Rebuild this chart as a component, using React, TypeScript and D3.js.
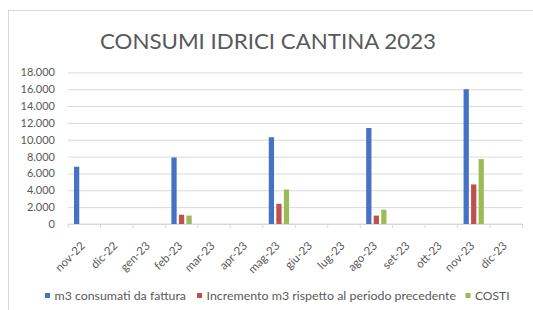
import * as d3 from "d3";
import React from "react";

const months = [
  "nov-22", "dic-22", "gen-23", "feb-23", "mar-23", "apr-23", "mag-23",
  "giu-23", "lug-23", "ago-23", "set-23", "ott-23", "nov-23", "dic-23",
];
// m3 consumati da fattura
const consumi = [6800, null, null, 7900, null, null, 10300, null, null, 11400, null, null, 16000, null];
// Incremento m3 rispetto al periodo precedente
const incremento = [null, null, null, 1100, null, null, 2400, null, null, 1000, null, null, 4700, null];
// COSTI
const costi = [null, null, null, 1000, null, null, 4100, null, null, 1700, null, null, 7700, null];
const yTicks = [0, 2000, 4000, 6000, 8000, 10000, 12000, 14000, 16000, 18000];

const seriesNames = ["m3 consumati da fattura", "Incremento m3 rispetto al periodo precedente", "COSTI"];
const seriesColors = ["#4472C4", "#C0504D", "#9BBB59"];

const W = 533;
const H = 310;
const FONT = "Lato, 'Open Sans', sans-serif";

function App() {
  const svgRef = React.useRef<SVGSVGElement>(null);

  React.useEffect(() => {
    const svg = d3.select(svgRef.current);
    svg.selectAll("*").remove();

    const margin = { top: 72.4, right: 10.5, bottom: 86, left: 68 };
    const x = d3.scaleBand().domain(months).range([margin.left, W - margin.right]).padding(0);
    const y = d3.scaleLinear().domain([0, 18000]).range([H - margin.bottom, margin.top]);
    const sub = d3
      .scaleBand<number>()
      .domain([0, 1, 2])
      .range([6, 26.3])
      .paddingInner(0.3);

    // chart border
    svg
      .append("rect")
      .attr("x", 8.5)
      .attr("y", 10.5)
      .attr("width", W + 20)
      .attr("height", H + 20)
      .attr("fill", "#fff")
      .attr("stroke", "#d9d9d9");

    svg
      .append("text")
      .attr("x", 268)
      .attr("y", 49)
      .attr("text-anchor", "middle")
      .attr("font-family", FONT)
      .attr("font-size", 21)
      .attr("fill", "#595959")
      .attr("textLength", 336)
      .attr("lengthAdjust", "spacingAndGlyphs")
      .text("CONSUMI IDRICI CANTINA 2023");

    // gridlines + y labels
    const yAxis = d3
      .axisLeft(y)
      .tickValues(yTicks)
      .tickSize(-(W - margin.left - margin.right))
      .tickPadding(13)
      .tickFormat((d) => d3.format(",")(d as number).replace(/,/g, "."));
    svg
      .append("g")
      .attr("transform", `translate(${margin.left},0)`)
      .call(yAxis)
      .call((g) => g.select(".domain").remove())
      .call((g) => g.selectAll(".tick line").attr("stroke", "#d9d9d9"))
      .call((g) =>
        g
          .selectAll(".tick text")
          .attr("fill", "#595959")
          .attr("font-family", FONT)
          .attr("font-size", 11),
      );

    // x axis, ticks between categories
    const xg = svg.append("g").attr("transform", `translate(0,${y(0)})`);
    xg.append("line")
      .attr("x1", margin.left)
      .attr("x2", W - margin.right)
      .attr("stroke", "#d9d9d9");
    const bounds = [...months.map((m) => x(m)!), W - margin.right];
    xg.selectAll(".tk")
      .data(bounds)
      .join("line")
      .attr("x1", (d) => d)
      .attr("x2", (d) => d)
      .attr("y1", 0)
      .attr("y2", 4)
      .attr("stroke", "#d9d9d9");
    xg.selectAll(".lbl")
      .data(months)
      .join("text")
      .attr("transform", (d) => `translate(${x(d)! + x.bandwidth() / 2 + 1.5},${22.5}) rotate(-45)`)
      .attr("text-anchor", "end")
      .attr("font-family", FONT)
      .attr("font-size", 11.5)
      .attr("fill", "#595959")
      .text((d) => d);

    // bars
    const series = [consumi, incremento, costi];
    series.forEach((vals, si) => {
      svg
        .append("g")
        .selectAll("rect")
        .data(months.map((m, i) => ({ m, v: vals[i] })).filter((d) => d.v != null))
        .join("rect")
        .attr("x", (d) => x(d.m)! + sub(si)!)
        .attr("width", sub.bandwidth())
        .attr("y", (d) => y(d.v as number))
        .attr("height", (d) => y(0) - y(d.v as number))
        .attr("fill", seriesColors[si]);
    });

    // legend
    const legendSq = [45, 197, 465.5];
    const legendLen = [131.5, 249.5, 34.5];
    const lg = svg.append("g").attr("transform", `translate(0,295.5)`);
    seriesNames.forEach((name, i) => {
      lg.append("rect")
        .attr("x", legendSq[i])
        .attr("y", -2.5)
        .attr("width", 5)
        .attr("height", 5)
        .attr("fill", seriesColors[i]);
      lg.append("text")
        .attr("x", legendSq[i] + 9.5)
        .attr("y", 0)
        .attr("dy", "0.35em")
        .attr("font-family", FONT)
        .attr("font-size", 12.3)
        .attr("fill", "#595959")
        .attr("textLength", legendLen[i])
        .attr("lengthAdjust", "spacingAndGlyphs")
        .text(name);
    });
  }, []);

  return (
    <div style={{ position: "fixed", left: 0, top: 0 }}>
      <svg ref={svgRef} width={W} height={H} style={{ display: "block", background: "#fff" }} />
    </div>
  );
}

export default App;
